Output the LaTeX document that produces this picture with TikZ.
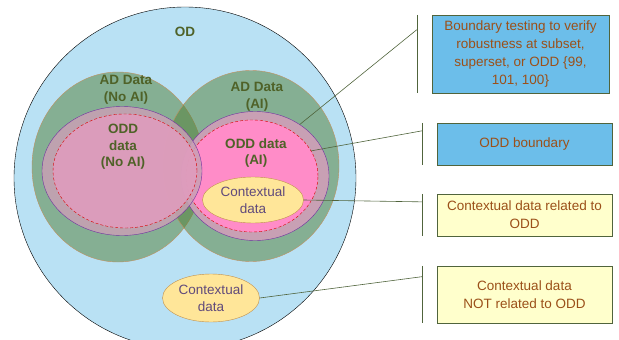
\documentclass[tikz,border=0pt]{standalone}
\usepackage{fontspec}
\setmainfont{Liberation Sans}
\usetikzlibrary{shapes.geometric,calc}

\definecolor{odblue}{RGB}{185,225,244}
\definecolor{adgreen}{RGB}{83,127,52}
\definecolor{adline}{RGB}{192,144,96}
\definecolor{oddring}{RGB}{200,160,180}
\definecolor{oddpinka}{RGB}{225,156,190}
\definecolor{oddpinkb}{RGB}{255,140,200}
\definecolor{oddline}{RGB}{112,48,160}
\definecolor{ctxfill}{RGB}{255,230,153}
\definecolor{ctxline}{RGB}{192,144,77}
\definecolor{labgreen}{RGB}{79,98,40}
\definecolor{ctxtext}{RGB}{96,74,123}
\definecolor{boxtext}{RGB}{155,80,25}
\definecolor{boxblue}{RGB}{108,190,234}
\definecolor{boxyellow}{RGB}{255,255,204}
\definecolor{boxline}{RGB}{80,100,60}

\begin{document}
\begin{tikzpicture}[x=1pt,y=-1pt]
  \tikzstyle{ad}=[ellipse, draw=adline, fill=adgreen, fill opacity=0.5, inner sep=0pt]
  \tikzstyle{odd}=[ellipse, draw=oddline, fill=oddring, fill opacity=0.85, inner sep=0pt]
  \tikzstyle{oddin}=[ellipse, draw=red!85!black, dashed, dash pattern=on 3pt off 2pt, inner sep=0pt]
  \tikzstyle{ctx}=[ellipse, draw=ctxline, fill=ctxfill, text=ctxtext, align=center, inner sep=0pt]
  \tikzstyle{lab}=[font=\fontsize{13.5}{16.5}\selectfont\bfseries, text=labgreen, align=center]
  \tikzstyle{note}=[draw=boxline, text=boxtext, align=center, minimum width=175pt,
    font=\fontsize{13.5}{18.3}\selectfont]
  \tikzstyle{callline}=[draw=boxline, line width=0.6pt]

  \clip (0,0) rectangle (619,340);

  % od
  \node[circle, draw=black, fill=odblue, minimum size=342pt, inner sep=0pt] (od) at (185,178) {};

  % ad data
  \node[ad, minimum width=172pt, minimum height=190pt] (adn) at (118,167) {};
  \node[ad, minimum width=176pt, minimum height=191pt] (ada) at (251,166) {};

  % odd data
  \node[odd, fill opacity=1, minimum width=148pt, minimum height=129pt] (oddai) at (255,176) {};
  \node[oddin, fill=oddpinkb, minimum width=132pt, minimum height=112pt] (oddaiin) at (252,176) {};
  \node[odd, minimum width=160pt, minimum height=129pt] (oddno) at (122,171) {};
  \node[oddin, fill=oddpinka, fill opacity=0.85, minimum width=144pt, minimum height=114pt] (oddnoin) at (125,171) {};

  % contextual data
  \node[ctx, minimum width=101pt, minimum height=46pt, font=\fontsize{13.5}{17.5}\selectfont] (ctxin) at (253,200) {Contextual\\data};
  \node[ctx, minimum width=97pt, minimum height=48pt, font=\fontsize{13.5}{17.5}\selectfont] (ctxout) at (211,298) {Contextual\\data};

  % labels
  \node[lab] (lod) at (185,32) {OD};
  \node[lab] (ladn) at (126,90) {AD Data\\(No AI)};
  \node[lab] (lada) at (257,97) {AD Data\\(AI)};
  \node[lab] (loddn) at (123,147) {ODD\\data\\(No AI)};
  \node[lab] (lodda) at (256,153) {ODD data\\(AI)};

  % notes
  \node[note, fill=boxblue, minimum width=177pt, minimum height=78pt] (b1) at (520.5,54)
    {Boundary testing to verify\\robustness at subset,\\superset, or ODD \{99,\\101, 100\}};
  \node[note, fill=boxblue, minimum height=42pt] (b2) at (524.5,144) {ODD boundary};
  \node[note, fill=boxyellow, minimum height=42pt] (b3) at (524.5,215) {Contextual data related to\\ODD};
  \node[note, fill=boxyellow, minimum height=57pt] (b4) at (524.5,294.5) {Contextual data\\NOT related to ODD};

  % brackets
  \foreach \b in {b1,b2,b3,b4} {
    \draw[callline] ([xshift=-15pt]\b.north west) -- ([xshift=-15pt]\b.south west);
    \coordinate (\b k) at ($([xshift=-15pt]\b.north west)!0.19!([xshift=-15pt]\b.south west)$);
  }
  \draw[callline] (oddai.49) -- (b1k);
  \draw[callline] (oddaiin.23) -- (b2k);
  \draw[callline] (ctxin.east) -- (b3k);
  \draw[callline] (ctxout.east) -- (b4k);
\end{tikzpicture}
\end{document}
